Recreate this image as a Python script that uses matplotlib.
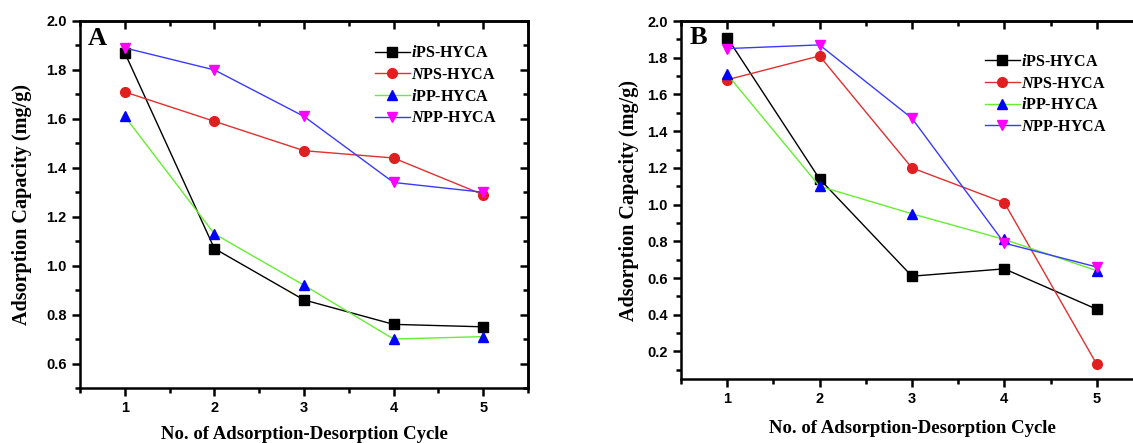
import matplotlib
matplotlib.use("Agg")
import matplotlib.pyplot as plt
from matplotlib.ticker import MultipleLocator, FixedLocator

plt.rcParams['font.family'] = 'Liberation Serif'
plt.rcParams['font.weight'] = 'bold'
plt.rcParams['mathtext.fontset'] = 'custom'
plt.rcParams['mathtext.it'] = 'Liberation Serif:italic:bold'
plt.rcParams['mathtext.rm'] = 'Liberation Serif:bold'

cycles = [1, 2, 3, 4, 5]
labels = [r'$\mathit{i}$PS-HYCA', r'$\mathit{N}$PS-HYCA',
          r'$\mathit{i}$PP-HYCA', r'$\mathit{N}$PP-HYCA']

# panel A
a_ips = [1.87, 1.07, 0.86, 0.76, 0.75]
a_nps = [1.71, 1.59, 1.47, 1.44, 1.29]
a_ipp = [1.61, 1.13, 0.92, 0.70, 0.71]
a_npp = [1.89, 1.80, 1.61, 1.34, 1.30]

# panel B
b_ips = [1.91, 1.14, 0.61, 0.65, 0.43]
b_nps = [1.68, 1.81, 1.20, 1.01, 0.13]
b_ipp = [1.71, 1.10, 0.95, 0.81, 0.64]
b_npp = [1.85, 1.87, 1.47, 0.79, 0.66]

styles = [
    dict(color='black', marker='s', mfc='black', mec='black'),
    dict(color='#e03030', marker='o', mfc='#e02020', mec='#e02020'),
    dict(color='#66ee33', marker='^', mfc='#0000ff', mec='#0000ff'),
    dict(color='#3a3aff', marker='v', mfc='#ff00ff', mec='#ff00ff'),
]


def draw_panel(ax, series, letter, ymin, yticks, legend_pos, xpad, ypad):
    for vals, lab, st in zip(series, labels, styles):
        ax.plot(cycles, vals, lw=1.0, ms=7, label=lab, **st)
    ax.set_xlim(0.5, 5.5)
    ax.set_ylim(ymin, 2.0)
    ax.xaxis.set_major_locator(FixedLocator(cycles))
    ax.xaxis.set_minor_locator(MultipleLocator(0.5))
    ax.yaxis.set_major_locator(FixedLocator(yticks))
    ax.yaxis.set_minor_locator(MultipleLocator(0.1))
    for sp in ax.spines.values():
        sp.set_linewidth(1.8)
    ax.tick_params(which='both', direction='out', width=1.8, top=False, right=False)
    ax.tick_params(which='major', length=6)
    ax.tick_params(which='minor', length=3.5)
    ax.tick_params(labelsize=10.5)
    for t in ax.get_xticklabels() + ax.get_yticklabels():
        t.set_family('Liberation Sans')
        t.set_weight('bold')
    sec = ax.secondary_xaxis('top')
    sec.xaxis.set_major_locator(FixedLocator(cycles))
    sec.xaxis.set_minor_locator(MultipleLocator(0.5))
    sec.tick_params(which='both', direction='in', width=1.8, labeltop=False)
    sec.tick_params(which='major', length=6)
    sec.tick_params(which='minor', length=3.5)
    sec.spines['top'].set_linewidth(1.8)
    sec2 = ax.secondary_yaxis('right')
    sec2.yaxis.set_major_locator(FixedLocator(yticks))
    sec2.yaxis.set_minor_locator(MultipleLocator(0.1))
    sec2.tick_params(which='both', direction='in', width=1.8, labelright=False)
    sec2.tick_params(which='major', length=6)
    sec2.tick_params(which='minor', length=3.5)
    sec2.spines['right'].set_linewidth(1.8)
    ax.set_xlabel('No. of Adsorption-Desorption Cycle', fontsize=13.5,
                  fontweight='bold', labelpad=xpad)
    ax.set_ylabel('Adsorption Capacity (mg/g)', fontsize=14.5,
                  fontweight='bold', labelpad=ypad)
    ax.text(0.018, 0.985, letter, transform=ax.transAxes, fontsize=19,
            fontweight='bold', va='top', ha='left')
    ax.legend(loc='upper left', bbox_to_anchor=legend_pos, frameon=False,
              fontsize=11.5, handlelength=2.2, handletextpad=0.1,
              labelspacing=0.35, borderpad=0)


fig = plt.figure(figsize=(11.33, 4.43), dpi=100)
axA = fig.add_axes([0.0706, 0.1242, 0.3954, 0.8284])
axB = fig.add_axes([0.601, 0.1445, 0.4078, 0.808])

draw_panel(axA, [a_ips, a_nps, a_ipp, a_npp], 'A', 0.5,
           [0.6, 0.8, 1.0, 1.2, 1.4, 1.6, 1.8, 2.0], (0.64, 0.955), 8, 10)
draw_panel(axB, [b_ips, b_nps, b_ipp, b_npp], 'B', 0.05,
           [0.2, 0.4, 0.6, 0.8, 1.0, 1.2, 1.4, 1.6, 1.8, 2.0], (0.64, 0.93), 10, 6)

fig.savefig('out.png', dpi=100)
